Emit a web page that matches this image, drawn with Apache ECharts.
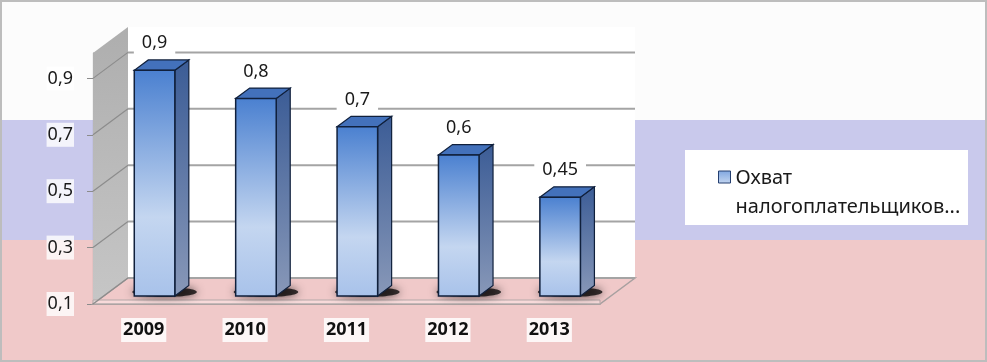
<!DOCTYPE html>
<html>
<head>
<meta charset="utf-8">
<script src="https://cdn.jsdelivr.net/npm/echarts@6/dist/echarts.min.js"></script>
<style>
  html, body { margin: 0; padding: 0; }
  #chart {
    width: 987px; height: 362px;
    background: linear-gradient(to bottom, #fcfcfc 0px, #fcfcfc 120px, #c9c9ec 120px, #c9c9ec 240px, #f0c9c9 240px, #f0c9c9 362px);
    box-shadow: inset 0 0 0 2px #bdbdbd;
  }
</style>
</head>
<body>
<div id="chart"></div>
<script>
// данные
const years = ['2009', '2010', '2011', '2012', '2013'];
const coverage = [0.9, 0.8, 0.7, 0.6, 0.45];
const yTicks = [0.1, 0.3, 0.5, 0.7, 0.9];
const seriesName = 'Охват налогоплательщиков...';

const Y_MIN = 0.1, Y_MAX = 0.99;
// глубина псевдо-3D
const DX = 35, DY = -26;
const T0 = 0.31, TD = 0.4;
const FONT = '"Noto Sans", sans-serif';

const fmt = v => String(Math.round(v * 100) / 100).replace('.', ',');

const chart = echarts.init(document.getElementById('chart'));

const frontFill = new echarts.graphic.LinearGradient(0, 0, 0, 1, [
  { offset: 0, color: '#4a80d0' },
  { offset: 0.65, color: '#c4d6f0' },
  { offset: 1, color: '#a8c2ea' }
]);
const sideFill = new echarts.graphic.LinearGradient(0, 0, 0, 1, [
  { offset: 0, color: '#3b5c96' },
  { offset: 1, color: '#8898b8' }
]);
const wallFill = new echarts.graphic.LinearGradient(0, 0, 0, 1, [
  { offset: 0, color: '#aeaeae' },
  { offset: 1, color: '#c6c6c6' }
]);
const legendFill = new echarts.graphic.LinearGradient(0, 0, 0, 1, [
  { offset: 0, color: '#7fa6e0' },
  { offset: 1, color: '#c4d6f0' }
]);

// стены, пол, линии сетки
function renderWalls(params, api) {
  const cs = params.coordSys;
  const x0 = cs.x, x1 = cs.x + cs.width;
  const yTop = cs.y, yBot = cs.y + cs.height;
  const children = [
    {
      type: 'polygon',
      shape: { points: [[x0, yTop], [x0 + DX, yTop + DY], [x0 + DX, yBot + DY], [x0, yBot]] },
      style: { fill: wallFill }
    },
    {
      type: 'rect',
      shape: { x: x0 + DX, y: yTop + DY, width: cs.width, height: cs.height },
      style: { fill: '#ffffff' }
    },
    {
      type: 'polygon',
      shape: { points: [[x0, yBot], [x1, yBot], [x1 + DX, yBot + DY], [x0 + DX, yBot + DY]] },
      style: { fill: 'rgba(0,0,0,0)', stroke: '#a8a0a0', lineWidth: 1.5 }
    },
    {
      type: 'polygon',
      shape: { points: [[x0, yBot - 4], [x1, yBot - 4], [x1, yBot], [x0, yBot]] },
      style: { fill: 'rgba(255,235,235,0.5)', stroke: '#b4a8a8', lineWidth: 1 }
    }
  ];
  yTicks.forEach(v => {
    const y = api.coord([0, v])[1];
    children.push({
      type: 'line',
      shape: { x1: x0, y1: y, x2: x0 + DX, y2: y + DY },
      style: { stroke: '#8c8c8c', lineWidth: 1.2 }
    });
    children.push({
      type: 'line',
      shape: { x1: x0 + DX, y1: y + DY, x2: x1 + DX, y2: y + DY },
      style: { stroke: '#a4a4a4', lineWidth: 2 }
    });
  });
  return { type: 'group', children };
}

// столбцы
function renderBar(params, api) {
  const i = api.value(0), v = api.value(1);
  const base = api.coord([i, Y_MIN]);
  const top = api.coord([i, v]);
  const band = api.size([1, 0])[0];
  const w = band * 0.4;
  const dx = DX * TD, dy = DY * TD;
  const xl = base[0] - w / 2 + DX * T0, xr = xl + w;
  const yb = base[1] + DY * T0, yt = top[1] + DY * T0;
  const edge = '#10203c';
  return {
    type: 'group',
    children: [
      {
        type: 'ellipse',
        shape: { cx: xl + w / 2 + 10, cy: yb - 4, rx: w / 2 + 12, ry: 5 },
        style: { fill: 'rgba(0,0,0,0.75)', shadowBlur: 8, shadowColor: 'rgba(0,0,0,0.9)' }
      },
      {
        type: 'polygon',
        shape: { points: [[xr, yt], [xr + dx, yt + dy], [xr + dx, yb + dy], [xr, yb]] },
        style: { fill: sideFill, stroke: edge, lineWidth: 1.2 }
      },
      {
        type: 'polygon',
        shape: { points: [[xl, yt], [xr, yt], [xr + dx, yt + dy], [xl + dx, yt + dy]] },
        style: { fill: '#4371bb', stroke: edge, lineWidth: 1.2 }
      },
      {
        type: 'rect',
        shape: { x: xl, y: yt, width: w, height: yb - yt },
        style: { fill: frontFill, stroke: edge, lineWidth: 1.5 }
      },
      {
        type: 'text',
        x: xl + w / 2,
        y: yt - 27,
        style: {
          text: fmt(v),
          font: '18px ' + FONT,
          fill: '#1a1a1a',
          align: 'center',
          verticalAlign: 'middle',
          backgroundColor: '#ffffff',
          padding: [10, 8, 1, 8]
        }
      }
    ]
  };
}

const option = {
  animation: false,
  grid: { left: 93, right: 387, top: 53, bottom: 58 },
  xAxis: {
    type: 'category',
    data: years,
    axisLine: { lineStyle: { color: '#8c8c8c', width: 1.5 } },
    axisTick: { length: 5, lineStyle: { color: '#8c8c8c' } },
    axisLabel: {
      margin: 14,
      color: '#111',
      fontFamily: FONT,
      fontSize: 18,
      fontWeight: 'bold',
      backgroundColor: 'rgba(255,255,255,0.85)',
      padding: [3, 2, 3, 2]
    }
  },
  yAxis: {
    type: 'value',
    min: Y_MIN,
    max: Y_MAX,
    interval: 0.2,
    axisLine: { show: true, lineStyle: { color: '#8c8c8c', width: 1.2 } },
    axisTick: { show: true, length: 6, customValues: yTicks, lineStyle: { color: '#8c8c8c' } },
    splitLine: { show: false },
    axisLabel: {
      customValues: yTicks,
      margin: 19,
      formatter: fmt,
      color: '#1a1a1a',
      fontFamily: FONT,
      fontSize: 18,
      backgroundColor: 'rgba(255,255,255,0.8)',
      padding: [4, 1, 2, 1]
    }
  },
  legend: {
    data: [{ name: seriesName, icon: 'rect', itemStyle: { color: legendFill, borderColor: '#243f70', borderWidth: 1 } }],
    left: 718,
    top: 143,
    orient: 'vertical',
    itemWidth: 12,
    itemHeight: 12,
    itemGap: 6,
    padding: 0,
    formatter: name => {
      const k = name.indexOf(' ');
      return '{p| }\n{t|' + name.slice(0, k) + '}\n{t|' + name.slice(k + 1) + '}';
    },
    textStyle: {
      rich: {
        p: { fontSize: 10, lineHeight: 32 },
        t: { fontFamily: FONT, fontSize: 20, lineHeight: 29, color: '#1a1a1a' }
      }
    }
  },
  graphic: [
    {
      type: 'rect',
      left: 685,
      top: 150,
      shape: { width: 283, height: 75 },
      style: { fill: '#ffffff' },
      silent: true
    }
  ],
  series: [
    {
      type: 'custom',
      name: 'walls',
      silent: true,
      z: 1,
      renderItem: renderWalls,
      data: [[0, Y_MIN]]
    },
    {
      type: 'custom',
      name: seriesName,
      z: 2,
      renderItem: renderBar,
      itemStyle: { color: '#7fa6e0' },
      encode: { x: 0, y: 1 },
      data: coverage.map((v, i) => [i, v])
    }
  ]
};

chart.setOption(option);
</script>
</body>
</html>
